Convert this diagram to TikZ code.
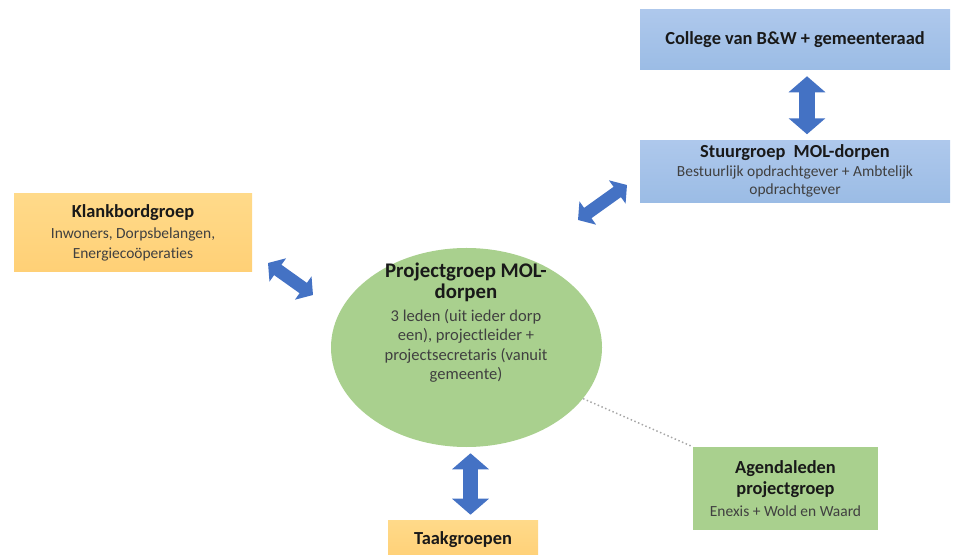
\documentclass[tikz,border=0pt]{standalone}
\usepackage{fontspec}
\setmainfont{Carlito}[Ligatures=NoCommon]
\usetikzlibrary{positioning,arrows.meta,shapes.geometric}
\definecolor{orgblue}{RGB}{68,114,196}
\definecolor{bluetop}{RGB}{174,200,236}
\definecolor{bluebot}{RGB}{155,188,229}
\definecolor{orangetop}{RGB}{255,218,138}
\definecolor{orangebot}{RGB}{255,208,118}
\definecolor{orggreen}{RGB}{169,208,142}
\definecolor{txtdark}{RGB}{25,25,25}
\definecolor{txtbody}{RGB}{64,64,64}
\tikzset{
  bluebox/.style={top color=bluetop, bottom color=bluebot, align=center, minimum width=232.5pt, text=txtbody},
  orangebox/.style={top color=orangetop, bottom color=orangebot, align=center, text=txtbody},
  greenbox/.style={fill=orggreen, align=center, text=txtbody},
  bigarrow/.style={orgblue, line width=12.5pt, {Triangle[width=27pt,length=12pt]}-{Triangle[width=27pt,length=12pt]}},
  diagarrow/.style={orgblue, line width=9.5pt, {Triangle[width=21pt,length=9pt]}-{Triangle[width=21pt,length=9pt]}},
  linkline/.style={black!35, line width=1.1pt, dash pattern=on 1.1pt off 1.9pt}
}
\newcommand{\ttl}{\fontsize{13.8}{16}\selectfont\bfseries\color{txtdark}}

\begin{document}
\begin{tikzpicture}[x=0.75pt, y=-0.75pt]
    \useasboundingbox (0,0) rectangle (963,555);
    \clip (0,0) rectangle (963,555);
    % top right: college and stuurgroep
    \node[bluebox, minimum height=45pt, font=\fontsize{11.6}{13.9}\selectfont] (college) at (795,40) {{\ttl College van B\&W + gemeenteraad}};
    \node[bluebox, minimum height=44.25pt, below=52.5pt of college, font=\fontsize{11.6}{13.9}\selectfont] (stuur) {{\ttl Stuurgroep\ \ MOL-dorpen}\\Bestuurlijk opdrachtgever + Ambtelijk\\opdrachtgever};
    % left
    \node[orangebox, minimum width=178.5pt, minimum height=58.5pt, font=\fontsize{11.6}{15.2}\selectfont] (klank) at (133,233) {{\ttl Klankbordgroep}\\Inwoners, Dorpsbelangen,\\Energiecoöperaties};
    % centre
    \node[ellipse, fill=orggreen, inner sep=0pt, minimum width=203.25pt, minimum height=149.25pt] (proj) at (466.5,347.5) {};
    \node[align=center, text=txtbody, font=\fontsize{12.4}{14.5}\selectfont] (projtxt) at (466,322.5) {{\fontsize{15.6}{15.8}\selectfont\bfseries\color{txtdark}Projectgroep MOL-}\\[1.2pt]{\fontsize{15.6}{15.8}\selectfont\bfseries\color{txtdark}dorpen}\\[3pt]3 leden (uit ieder dorp\\een), projectleider +\\projectsecretaris (vanuit\\gemeente)};
    % bottom
    \node[orangebox, minimum width=112.5pt, minimum height=30pt] (taak) at (463,540) {{\ttl Taakgroepen}};
    \node[greenbox, minimum width=138.75pt, minimum height=62.25pt, font=\fontsize{11.6}{16}\selectfont] (agenda) at (785.5,488.5) {{\ttl Agendaleden}\\{\ttl projectgroep}\\Enexis + Wold en Waard};
    % links
    \coordinate (k1) at (268,263);
    \coordinate (k2) at (313,295);
    \coordinate (s1) at (578,220);
    \coordinate (s2) at (627,185);
    \draw[bigarrow, shorten <=4.5pt, shorten >=4.5pt] ([xshift=9pt]college.south) -- ([xshift=9pt]stuur.north);
    \draw[diagarrow] (k1) -- (k2);
    \draw[diagarrow] (s1) -- (s2);
    \draw[bigarrow, line width=11pt, shorten <=4.5pt, shorten >=3.75pt] ([xshift=3pt]proj.south) -- ([xshift=3pt]proj.south |- taak.north);
    \draw[linkline] (proj) -- (agenda.north west);
  \end{tikzpicture}
\end{document}
